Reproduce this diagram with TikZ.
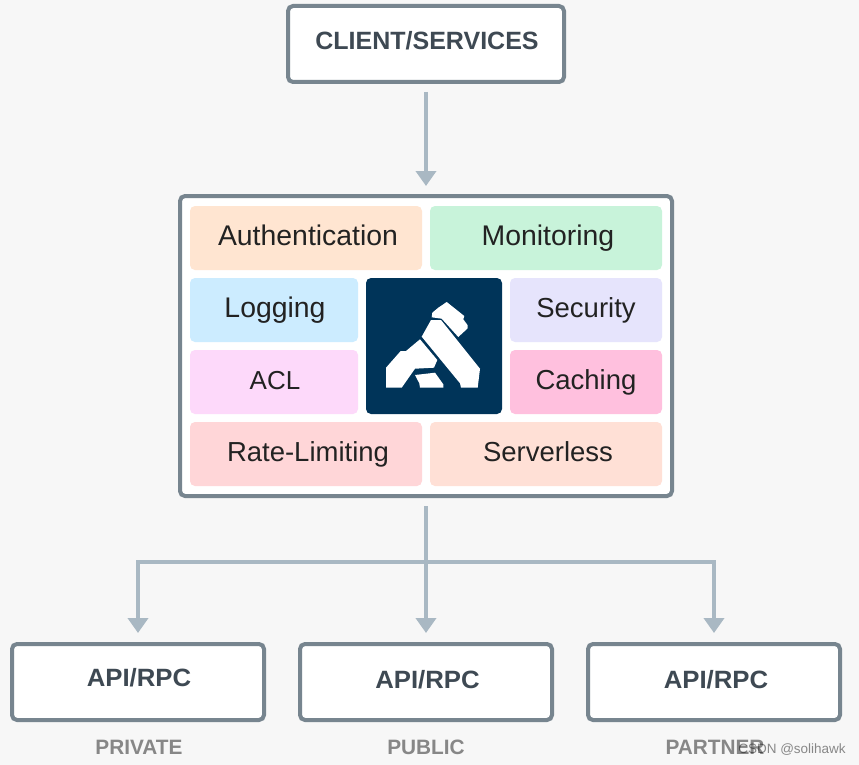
\documentclass[tikz,border=0pt]{standalone}
\usepackage{fontspec}
\setmainfont{Liberation Sans}
\usetikzlibrary{arrows.meta}
\definecolor{bgc}{HTML}{F7F7F7}
\definecolor{edgec}{HTML}{77858F}
\definecolor{linkc}{HTML}{A9B8C3}
\definecolor{headc}{HTML}{3E4953}
\definecolor{tilec}{HTML}{222222}
\definecolor{navyc}{HTML}{003459}
\newfontfamily\headfont[FakeStretch=1.03]{Liberation Sans}
\tikzset{
  framebox/.style={draw=edgec,line width=4pt,fill=white,rounded corners=5pt,inner sep=0pt},
  headtxt/.style={font=\headfont\fontsize{25}{30}\selectfont\bfseries,text=headc,text height=16pt,text depth=4pt},
  tile/.style={rounded corners=5pt,inner sep=0pt,minimum height=64pt,text=tilec,font=\fontsize{28.4}{34}\selectfont,text height=20pt,text depth=6pt},
  tilesm/.style={tile,font=\fontsize{27.5}{34}\selectfont},
  link/.style={draw=linkc,line width=4pt},
  tipped/.style={-{Triangle[length=15pt,width=20pt]},shorten >=9pt},
  caption/.style={font=\fontsize{20.8}{25}\selectfont\bfseries,text=black!47},
}
\begin{document}
\begin{tikzpicture}[x=1pt,y=-1pt]
\useasboundingbox (0,0) rectangle (859,765);
\fill[bgc] (0,0) rectangle (859,765);
% boxes
\node[framebox,headtxt,font=\fontsize{25}{30}\selectfont\bfseries,text height=15pt,text depth=4pt,minimum width=276pt,minimum height=76pt] (client) at (426,44) {\hspace*{2pt}CLIENT/SERVICES};
\node[framebox,minimum width=492pt,minimum height=300pt] (gw) at (426,346) {};
\node[framebox,headtxt,text height=14pt,text depth=6pt,minimum width=252pt,minimum height=76pt] (api1) at (138,682) {\hspace*{2pt}API/RPC};
\node[framebox,headtxt,minimum width=252pt,minimum height=76pt] (api2) at (426,682) {\hspace*{3pt}API/RPC};
\node[framebox,headtxt,minimum width=252pt,minimum height=76pt] (api3) at (714,682) {\hspace*{4pt}API/RPC};
% tiles
\node[tile,fill={rgb,255:red,255;green,229;blue,209},minimum width=232pt] (auth) at (306,238) {\hspace*{4pt}Authentication};
\node[tile,fill={rgb,255:red,200;green,243;blue,218},minimum width=232pt] (mon) at (546,238) {\hspace*{4pt}Monitoring};
\node[tile,fill={rgb,255:red,204;green,236;blue,255},minimum width=168pt] (log) at (274,310) {\hspace*{2pt}Logging};
\node[tilesm,fill={rgb,255:red,230;green,228;blue,252},minimum width=152pt] (sec) at (586,310) {Security};
\node[tile,font=\fontsize{26}{32}\selectfont,fill={rgb,255:red,253;green,217;blue,250},minimum width=168pt] (acl) at (274,382) {\hspace*{2pt}ACL};
\node[tilesm,fill={rgb,255:red,255;green,192;blue,222},minimum width=152pt] (cache) at (586,382) {Caching};
\node[tilesm,fill={rgb,255:red,255;green,214;blue,216},minimum width=232pt] (rate) at (306,454) {\hspace*{4pt}Rate-Limiting};
\node[tilesm,fill={rgb,255:red,255;green,224;blue,214},minimum width=232pt] (srv) at (546,454) {\hspace*{4pt}Serverless};
\node[rounded corners=5pt,fill=navyc,minimum width=136pt,minimum height=136pt,inner sep=0pt] (logo) at (434,346) {};
% logo glyph
\fill[white] (446.7,302)--(464.3,316)--(463.3,319.3)--(467.7,325.3)--(467.7,328.3)--(458.3,337)--(441.7,318.7)--(431.7,317.3)--(432.3,312.7)--(438.3,307.7)--cycle;
\fill[white] (431,320)--(441,320)--(480,368.7)--(477.7,387.7)--(461,387.7)--(460,383.3)--(421.7,336.7)--cycle;
\fill[white] (420,339.3)--(437.3,360)--(434,367.7)--(415,368.7)--(401.7,387.7)--(386,387.7)--(386,367.7)--(400.7,351)--(406,351)--cycle;
\fill[white] (415,375)--(435,372.7)--(443.3,384.3)--(443.3,387.7)--(420,387.7)--(419.3,383.3)--cycle;
% connectors
\coordinate (split) at (426,562);
\draw[link,tipped,shorten <=8pt,shorten >=8pt] (client.south) -- (gw.north);
\draw[link,tipped,shorten <=8pt] (gw.south) -- (api2.north);
\draw[link,tipped] (split) -| (api1.north);
\draw[link,tipped] (split) -| (api3.north);
% captions
\node[caption] (c1) at (139,747) {PRIVATE};
\node[caption] (c2) at (426,747) {PUBLIC};
\node[caption] (c3) at (715,747) {PARTNER};
\node[font=\fontsize{13.5}{16}\selectfont,text=black,opacity=0.45] (wm) at (792,750) {CSDN @solihawk};
\end{tikzpicture}
\end{document}
